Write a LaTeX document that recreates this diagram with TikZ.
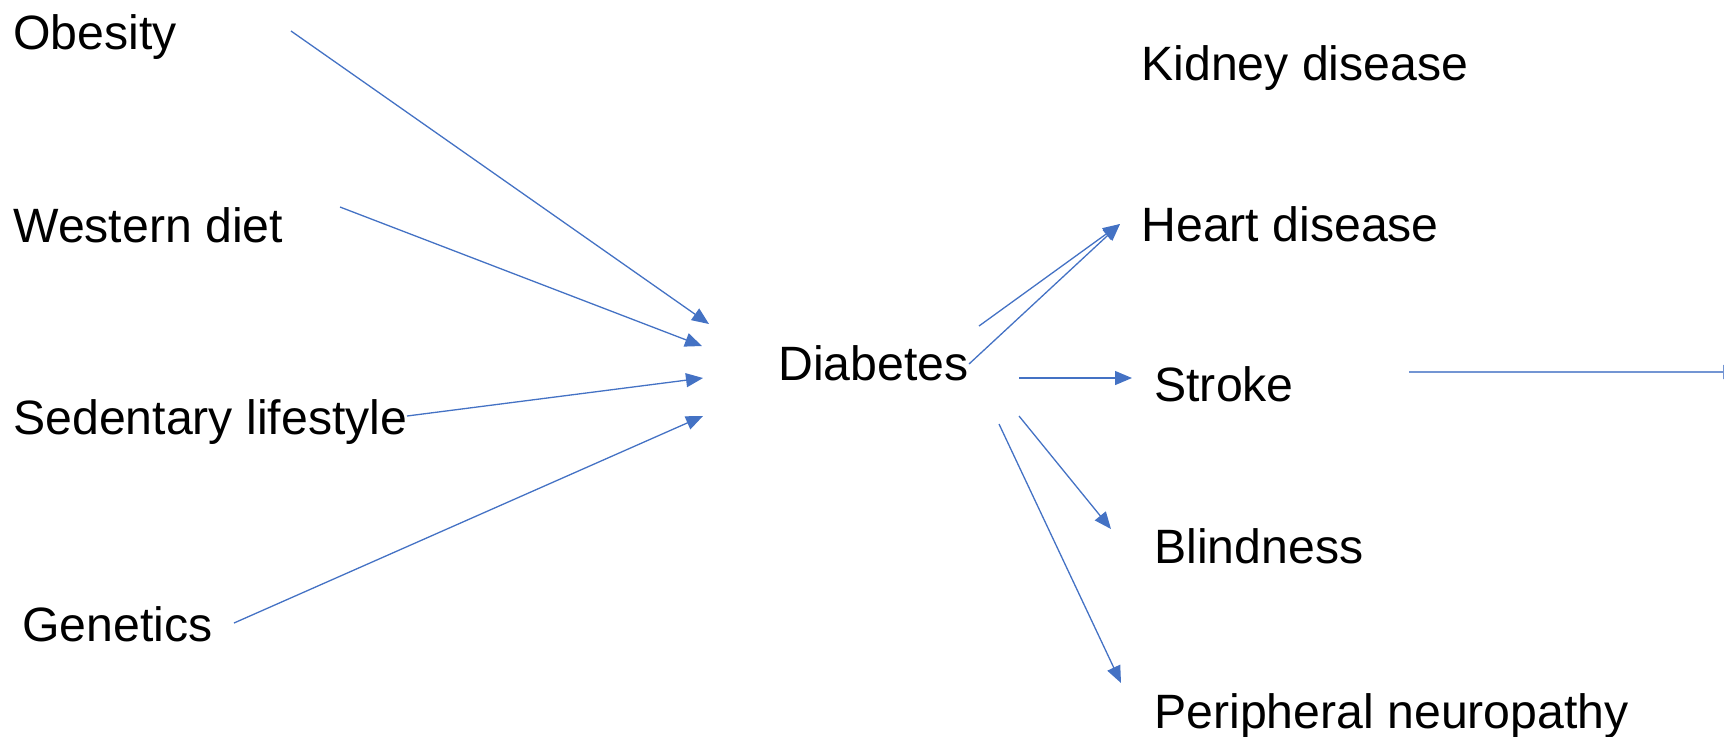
\documentclass[tikz,border=0pt]{standalone}
\usepackage{fontspec}
\setmainfont{Liberation Sans}
\usetikzlibrary{arrows.meta}
\definecolor{officeblue}{HTML}{4472C4}
\begin{document}
\begin{tikzpicture}[x=0.5pt,y=-0.5pt,
  lbl/.style={anchor=base west,inner sep=0pt,font=\fontsize{24.1}{29}\selectfont},
  conn/.style={draw=officeblue,line width=0.65pt,-{Triangle[length=8.5pt,width=7pt]}}]
\useasboundingbox (0,0) rectangle (1724,736);
% labels
\node[lbl] (ob) at (13,49.5) {Obesity};
\node[lbl] (wd) at (13,242) {Western diet};
\node[lbl] (sl) at (13,434) {Sedentary lifestyle};
\node[lbl] (ge) at (22,641) {Genetics};
\node[lbl] (di) at (778,380.5) {Diabetes};
\node[lbl] (kd) at (1141,80) {Kidney disease};
\node[lbl] (hd) at (1141,241) {Heart disease};
\node[lbl] (st) at (1154,401) {Stroke};
\node[lbl] (bl) at (1154,563) {Blindness};
\node[lbl] (pn) at (1154,728) {Peripheral neuropathy};
% connector end points
\coordinate (obS) at (291,31);  \coordinate (obE) at (709,324);
\coordinate (wdS) at (340,207); \coordinate (wdE) at (702,346);
\coordinate (slS) at (407,416); \coordinate (slE) at (703,378);
\coordinate (geS) at (234,623); \coordinate (geE) at (703,416);
\coordinate (h1S) at (979,326); \coordinate (hdE) at (1120,224);
\coordinate (h2S) at (969,364);
\coordinate (stS) at (1019,378); \coordinate (stE) at (1132,378);
\coordinate (blS) at (1019,416); \coordinate (blE) at (1111,529);
\coordinate (pnS) at (999,424); \coordinate (pnE) at (1121,683);
\coordinate (rS) at (1409,372); \coordinate (rE) at (1740,372);
% connectors
\draw[conn] (obS) -- (obE);
\draw[conn] (wdS) -- (wdE);
\draw[conn] (slS) -- (slE);
\draw[conn] (geS) -- (geE);
\draw[conn] (h1S) -- (hdE);
\draw[conn] (h2S) -- (hdE);
\draw[conn] (stS) -- (stE);
\draw[conn] (blS) -- (blE);
\draw[conn] (pnS) -- (pnE);
\draw[conn,line width=0.9pt,draw=officeblue!75] (rS) -- (rE);
\end{tikzpicture}
\end{document}
